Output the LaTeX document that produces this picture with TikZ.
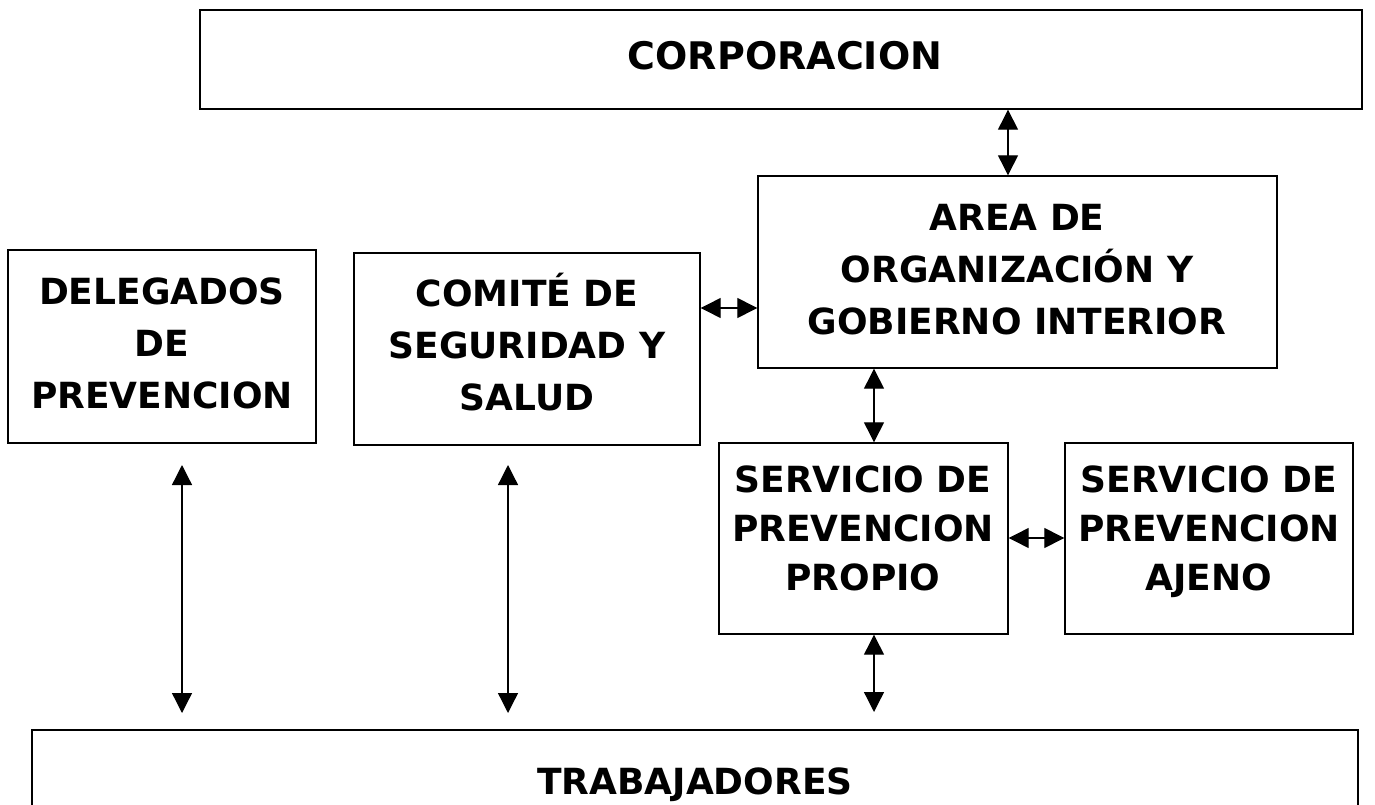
\documentclass[tikz,border=0pt]{standalone}
\usepackage{fontspec}
\setmainfont{DejaVu Sans}
\usetikzlibrary{arrows.meta}
\begin{document}
\begin{tikzpicture}[x=1pt,y=-1pt,
  box/.style={draw,line width=1.4pt,inner sep=0pt},
  lbl/.style={font=\fontsize{36}{52}\selectfont\bfseries,anchor=base,inner sep=0pt},
  big/.style={font=\fontsize{38}{52}\selectfont\bfseries,anchor=base,inner sep=0pt},
  dbl/.style={line width=1.3pt,{Triangle[length=20pt,width=20pt]}-{Triangle[length=20pt,width=20pt]}}]
\useasboundingbox (0,0) rectangle (1375,805);
% boxes
\node[box,minimum width=1162pt,minimum height=99pt] (corp) at (781,59.5) {};
\node[box,minimum width=519pt,minimum height=192pt] (area) at (1017.5,272) {};
\node[box,minimum width=308pt,minimum height=193pt] (del) at (162,346.5) {};
\node[box,minimum width=346pt,minimum height=192pt] (com) at (527,349) {};
\node[box,minimum width=289pt,minimum height=191pt] (prop) at (863.5,538.5) {};
\node[box,minimum width=288pt,minimum height=191pt] (ajen) at (1209,538.5) {};
\node[box,minimum width=1326pt,minimum height=120pt] (trab) at (695,790) {};
% labels
\node[big] (tcorp) at (785,70) {CORPORACION};
\node[lbl] (ta1) at (1017,230) {AREA DE};
\node[lbl] (ta2) at (1017,282) {ORGANIZACIÓN Y};
\node[lbl] (ta3) at (1017,334) {GOBIERNO INTERIOR};
\node[lbl] (td1) at (162,304) {DELEGADOS};
\node[lbl] (td2) at (162,356) {DE};
\node[lbl] (td3) at (162,408) {PREVENCION};
\node[lbl] (tc1) at (527,306) {COMITÉ DE};
\node[lbl] (tc2) at (527,358) {SEGURIDAD Y};
\node[lbl] (tc3) at (527,410) {SALUD};
\node[lbl] (tp1) at (863,492) {SERVICIO DE};
\node[lbl] (tp2) at (863,541) {PREVENCION};
\node[lbl] (tp3) at (863,590) {PROPIO};
\node[lbl] (tj1) at (1209,492) {SERVICIO DE};
\node[lbl] (tj2) at (1209,541) {PREVENCION};
\node[lbl] (tj3) at (1209,590) {AJENO};
\node[lbl] (ttrab) at (695,794) {TRABAJADORES};
% free arrow ends
\coordinate (d1) at (182,465);
\coordinate (d2) at (182,713);
\coordinate (c1) at (508,465);
\coordinate (c2) at (508,713);
\coordinate (p2) at (874,712);
% connectors
\draw[dbl] (1008,0 |- corp.south) -- (1008,0 |- area.north);
\draw[dbl] (com.east |- 0,308) -- (area.west |- 0,308);
\draw[dbl] (874,0 |- area.south) -- (874,0 |- prop.north);
\draw[dbl] (prop.east |- 0,538) -- (ajen.west |- 0,538);
\draw[dbl] (874,0 |- prop.south) -- (p2);
\draw[dbl] (d1) -- (d2);
\draw[dbl] (c1) -- (c2);
\end{tikzpicture}
\end{document}
